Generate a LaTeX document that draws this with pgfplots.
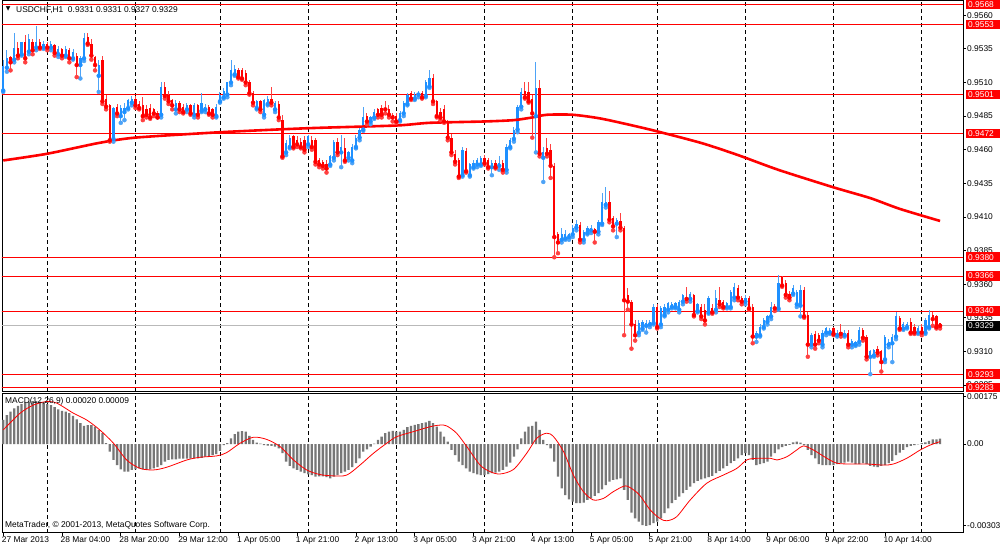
\documentclass[border=0pt]{standalone}
\usepackage{fontspec}
\setmainfont{Liberation Sans}
\newfontfamily\djv{DejaVu Sans}
\usepackage{pgfplots}
\usepackage{pgfplotstable}
\pgfplotsset{compat=1.18}
\definecolor{bull}{HTML}{1E90FF}
\definecolor{bear}{HTML}{FF0000}
\definecolor{bullwick}{HTML}{4DA3F7}
\definecolor{bearwick}{HTML}{FF4040}
\definecolor{histgray}{HTML}{777777}

\pgfplotstableread{
i o h l c
0 0.9504 0.9527 0.9503 0.9522
1 0.9521 0.9534 0.9518 0.9528
2 0.9529 0.9530 0.9519 0.9525
3 0.9527 0.9547 0.9525 0.9536
4 0.9536 0.9540 0.9528 0.9530
5 0.9531 0.9540 0.9530 0.9540
6 0.9540 0.9545 0.9525 0.9528
7 0.9533 0.9546 0.9531 0.9542
8 0.9540 0.9542 0.9531 0.9534
9 0.9536 0.9552 0.9534 0.9540
10 0.9540 0.9542 0.9535 0.9536
11 0.9536 0.9541 0.9535 0.9539
12 0.9539 0.9540 0.9534 0.9536
13 0.9536 0.9541 0.9534 0.9539
14 0.9538 0.9539 0.9530 0.9532
15 0.9531 0.9537 0.9529 0.9535
16 0.9535 0.9536 0.9528 0.9530
17 0.9530 0.9537 0.9529 0.9535
18 0.9534 0.9536 0.9525 0.9528
19 0.9528 0.9535 0.9527 0.9533
20 0.9530 0.9532 0.9514 0.9523
21 0.9523 0.9530 0.9513 0.9528
22 0.9528 0.9547 0.9526 0.9543
23 0.9544 0.9547 0.9538 0.9539
24 0.9539 0.9542 0.9527 0.9530
25 0.9529 0.9530 0.9519 0.9523
26 0.9515 0.9527 0.9503 0.9523
27 0.9527 0.9530 0.9494 0.9496
28 0.9498 0.9501 0.9490 0.9492
29 0.9493 0.9494 0.9466 0.9467
30 0.9468 0.9492 0.9466 0.9491
31 0.9492 0.9494 0.9485 0.9487
32 0.9485 0.9493 0.9480 0.9491
33 0.9488 0.9495 0.9482 0.9491
34 0.9491 0.9498 0.9490 0.9497
35 0.9495 0.9500 0.9493 0.9498
36 0.9498 0.9500 0.9491 0.9493
37 0.9494 0.9496 0.9490 0.9491
38 0.9493 0.9499 0.9482 0.9485
39 0.9490 0.9493 0.9484 0.9486
40 0.9491 0.9494 0.9483 0.9484
41 0.9490 0.9491 0.9485 0.9487
42 0.9487 0.9489 0.9484 0.9484
43 0.9486 0.9510 0.9484 0.9507
44 0.9507 0.9510 0.9498 0.9500
45 0.9501 0.9504 0.9494 0.9496
46 0.9497 0.9498 0.9490 0.9493
47 0.9490 0.9497 0.9487 0.9495
48 0.9495 0.9496 0.9488 0.9490
49 0.9492 0.9494 0.9487 0.9488
50 0.9490 0.9495 0.9488 0.9493
51 0.9493 0.9494 0.9486 0.9487
52 0.9486 0.9495 0.9484 0.9493
53 0.9493 0.9494 0.9484 0.9486
54 0.9489 0.9502 0.9488 0.9495
55 0.9490 0.9494 0.9488 0.9492
56 0.9492 0.9493 0.9486 0.9487
57 0.9490 0.9491 0.9484 0.9486
58 0.9485 0.9494 0.9484 0.9492
59 0.9496 0.9503 0.9495 0.9501
60 0.9499 0.9506 0.9498 0.9504
61 0.9501 0.9510 0.9499 0.9510
62 0.9510 0.9527 0.9508 0.9519
63 0.9516 0.9523 0.9515 0.9520
64 0.9519 0.9521 0.9513 0.9514
65 0.9519 0.9521 0.9512 0.9513
66 0.9517 0.9519 0.9508 0.9510
67 0.9510 0.9512 0.9501 0.9502
68 0.9502 0.9504 0.9493 0.9495
69 0.9491 0.9497 0.9490 0.9496
70 0.9496 0.9497 0.9488 0.9490
71 0.9486 0.9498 0.9484 0.9497
72 0.9494 0.9500 0.9493 0.9498
73 0.9498 0.9507 0.9493 0.9495
74 0.9490 0.9496 0.9488 0.9495
75 0.9494 0.9496 0.9482 0.9484
76 0.9482 0.9486 0.9454 0.9455
77 0.9458 0.9467 0.9456 0.9465
78 0.9462 0.9471 0.9461 0.9469
79 0.9470 0.9471 0.9461 0.9462
80 0.9467 0.9470 0.9462 0.9464
81 0.9466 0.9469 0.9461 0.9462
82 0.9467 0.9470 0.9458 0.9460
83 0.9464 0.9471 0.9462 0.9470
84 0.9467 0.9470 0.9460 0.9462
85 0.9467 0.9469 0.9449 0.9451
86 0.9452 0.9454 0.9447 0.9449
87 0.9451 0.9452 0.9446 0.9448
88 0.9449 0.9452 0.9443 0.9446
89 0.9449 0.9456 0.9448 0.9455
90 0.9454 0.9467 0.9452 0.9466
91 0.9466 0.9469 0.9456 0.9458
92 0.9458 0.9471 0.9447 0.9462
93 0.9461 0.9469 0.9451 0.9452
94 0.9454 0.9459 0.9452 0.9458
95 0.9452 0.9464 0.9450 0.9462
96 0.9462 0.9471 0.9461 0.9469
97 0.9469 0.9476 0.9467 0.9475
98 0.9475 0.9492 0.9474 0.9484
99 0.9485 0.9487 0.9479 0.9481
100 0.9481 0.9485 0.9479 0.9484
101 0.9484 0.9490 0.9483 0.9488
102 0.9490 0.9491 0.9484 0.9486
103 0.9491 0.9493 0.9484 0.9486
104 0.9491 0.9496 0.9487 0.9490
105 0.9490 0.9493 0.9484 0.9486
106 0.9486 0.9487 0.9481 0.9484
107 0.9485 0.9487 0.9480 0.9481
108 0.9482 0.9489 0.9481 0.9487
109 0.9487 0.9496 0.9485 0.9495
110 0.9494 0.9502 0.9493 0.9501
111 0.9502 0.9504 0.9497 0.9498
112 0.9498 0.9503 0.9497 0.9501
113 0.9501 0.9504 0.9499 0.9502
114 0.9502 0.9504 0.9498 0.9499
115 0.9500 0.9512 0.9499 0.9510
116 0.9507 0.9519 0.9506 0.9513
117 0.9513 0.9516 0.9494 0.9496
118 0.9496 0.9497 0.9484 0.9485
119 0.9488 0.9491 0.9482 0.9484
120 0.9490 0.9493 0.9480 0.9481
121 0.9481 0.9482 0.9467 0.9469
122 0.9469 0.9472 0.9456 0.9458
123 0.9457 0.9460 0.9449 0.9451
124 0.9452 0.9454 0.9439 0.9440
125 0.9441 0.9462 0.9440 0.9460
126 0.9459 0.9461 0.9443 0.9444
127 0.9441 0.9450 0.9440 0.9449
128 0.9447 0.9452 0.9446 0.9450
129 0.9449 0.9454 0.9447 0.9452
130 0.9449 0.9455 0.9448 0.9454
131 0.9454 0.9456 0.9449 0.9450
132 0.9452 0.9454 0.9446 0.9447
133 0.9447 0.9452 0.9441 0.9450
134 0.9450 0.9452 0.9446 0.9447
135 0.9448 0.9455 0.9445 0.9450
136 0.9450 0.9452 0.9443 0.9445
137 0.9445 0.9464 0.9443 0.9462
138 0.9462 0.9469 0.9461 0.9467
139 0.9468 0.9477 0.9466 0.9475
140 0.9475 0.9493 0.9473 0.9492
141 0.9492 0.9506 0.9490 0.9503
142 0.9504 0.9510 0.9498 0.9499
143 0.9503 0.9510 0.9495 0.9496
144 0.9498 0.9501 0.9469 0.9487
145 0.9485 0.9525 0.9458 0.9506
146 0.9506 0.9512 0.9455 0.9457
147 0.9454 0.9462 0.9436 0.9458
148 0.9461 0.9469 0.9455 0.9457
149 0.9460 0.9464 0.9439 0.9448
150 0.9448 0.9450 0.9380 0.9395
151 0.9397 0.9399 0.9383 0.9391
152 0.9393 0.9402 0.9391 0.9397
153 0.9394 0.9400 0.9393 0.9397
154 0.9395 0.9398 0.9393 0.9397
155 0.9397 0.9404 0.9395 0.9402
156 0.9402 0.9408 0.9400 0.9405
157 0.9404 0.9406 0.9391 0.9393
158 0.9393 0.9400 0.9391 0.9399
159 0.9398 0.9403 0.9397 0.9402
160 0.9400 0.9404 0.9398 0.9402
161 0.9401 0.9402 0.9391 0.9399
162 0.9399 0.9408 0.9397 0.9406
163 0.9405 0.9428 0.9404 0.9421
164 0.9419 0.9432 0.9417 0.9421
165 0.9421 0.9429 0.9406 0.9408
166 0.9409 0.9411 0.9400 0.9403
167 0.9405 0.9409 0.9395 0.9408
168 0.9407 0.9413 0.9400 0.9402
169 0.9402 0.9403 0.9322 0.9348
170 0.9352 0.9357 0.9341 0.9347
171 0.9347 0.9348 0.9312 0.9330
172 0.9330 0.9333 0.9318 0.9322
173 0.9324 0.9333 0.9322 0.9331
174 0.9327 0.9333 0.9326 0.9332
175 0.9329 0.9333 0.9324 0.9331
176 0.9330 0.9333 0.9328 0.9332
177 0.9331 0.9345 0.9330 0.9343
178 0.9343 0.9345 0.9327 0.9328
179 0.9330 0.9344 0.9328 0.9342
180 0.9337 0.9345 0.9336 0.9343
181 0.9341 0.9347 0.9339 0.9346
182 0.9343 0.9347 0.9342 0.9345
183 0.9343 0.9347 0.9342 0.9346
184 0.9341 0.9348 0.9339 0.9347
185 0.9347 0.9353 0.9345 0.9352
186 0.9350 0.9358 0.9347 0.9349
187 0.9349 0.9354 0.9347 0.9353
188 0.9352 0.9353 0.9336 0.9337
189 0.9340 0.9346 0.9339 0.9345
190 0.9343 0.9345 0.9334 0.9336
191 0.9341 0.9345 0.9330 0.9333
192 0.9339 0.9351 0.9338 0.9350
193 0.9342 0.9345 0.9338 0.9339
194 0.9341 0.9356 0.9339 0.9350
195 0.9348 0.9358 0.9343 0.9345
196 0.9347 0.9348 0.9342 0.9343
197 0.9343 0.9347 0.9342 0.9346
198 0.9343 0.9356 0.9342 0.9354
199 0.9350 0.9361 0.9348 0.9358
200 0.9357 0.9359 0.9348 0.9350
201 0.9350 0.9351 0.9345 0.9347
202 0.9347 0.9352 0.9345 0.9350
203 0.9350 0.9351 0.9341 0.9342
204 0.9343 0.9345 0.9316 0.9321
205 0.9321 0.9325 0.9317 0.9324
206 0.9322 0.9330 0.9321 0.9328
207 0.9328 0.9335 0.9327 0.9333
208 0.9332 0.9337 0.9330 0.9336
209 0.9336 0.9347 0.9334 0.9343
210 0.9343 0.9345 0.9340 0.9342
211 0.9342 0.9367 0.9341 0.9361
212 0.9365 0.9366 0.9358 0.9359
213 0.9361 0.9363 0.9350 0.9352
214 0.9353 0.9355 0.9348 0.9350
215 0.9353 0.9359 0.9352 0.9357
216 0.9345 0.9356 0.9343 0.9354
217 0.9344 0.9359 0.9336 0.9356
218 0.9356 0.9358 0.9335 0.9336
219 0.9337 0.9339 0.9306 0.9315
220 0.9315 0.9324 0.9313 0.9322
221 0.9323 0.9325 0.9312 0.9315
222 0.9322 0.9324 0.9316 0.9318
223 0.9315 0.9326 0.9313 0.9324
224 0.9324 0.9328 0.9322 0.9327
225 0.9324 0.9327 0.9323 0.9326
226 0.9327 0.9328 0.9322 0.9323
227 0.9322 0.9326 0.9321 0.9324
228 0.9324 0.9330 0.9321 0.9323
229 0.9322 0.9326 0.9321 0.9324
230 0.9324 0.9326 0.9313 0.9315
231 0.9315 0.9319 0.9313 0.9318
232 0.9315 0.9318 0.9314 0.9317
233 0.9317 0.9328 0.9315 0.9326
234 0.9326 0.9327 0.9318 0.9320
235 0.9321 0.9322 0.9304 0.9306
236 0.9306 0.9311 0.9293 0.9310
237 0.9307 0.9312 0.9306 0.9311
238 0.9312 0.9314 0.9307 0.9309
239 0.9310 0.9311 0.9295 0.9302
240 0.9304 0.9322 0.9302 0.9321
241 0.9315 0.9319 0.9313 0.9317
242 0.9316 0.9323 0.9302 0.9321
243 0.9321 0.9339 0.9319 0.9336
244 0.9335 0.9336 0.9326 0.9327
245 0.9327 0.9332 0.9326 0.9330
246 0.9328 0.9332 0.9327 0.9330
247 0.9332 0.9335 0.9323 0.9324
248 0.9328 0.9330 0.9323 0.9324
249 0.9324 0.9329 0.9323 0.9327
250 0.9328 0.9330 0.9322 0.9324
251 0.9324 0.9335 0.9323 0.9333
252 0.9328 0.9341 0.9327 0.9337
253 0.9337 0.9339 0.9329 0.9334
254 0.9336 0.9337 0.9327 0.9328
255 0.9331 0.9331 0.9327 0.9329
}\candles

\pgfplotstableread{
i m
0 0.00089
1 0.00107
2 0.00120
3 0.00132
4 0.00141
5 0.00148
6 0.00153
7 0.00157
8 0.00159
9 0.00159
10 0.00157
11 0.00153
12 0.00148
13 0.00144
14 0.00136
15 0.00128
16 0.00123
17 0.00120
18 0.00114
19 0.00104
20 0.00091
21 0.00077
22 0.00067
23 0.00070
24 0.00070
25 0.00064
26 0.00052
27 0.00040
28 0.00003
29 -0.00028
30 -0.00059
31 -0.00078
32 -0.00094
33 -0.00102
34 -0.00102
35 -0.00096
36 -0.00094
37 -0.00090
38 -0.00094
39 -0.00096
40 -0.00094
41 -0.00090
42 -0.00086
43 -0.00078
44 -0.00065
45 -0.00059
46 -0.00057
47 -0.00057
48 -0.00054
49 -0.00054
50 -0.00054
51 -0.00054
52 -0.00053
53 -0.00053
54 -0.00051
55 -0.00047
56 -0.00044
57 -0.00041
58 -0.00037
59 -0.00025
60 -0.00004
61 0.00003
62 0.00021
63 0.00037
64 0.00046
65 0.00048
66 0.00046
67 0.00030
68 0.00015
69 0.00005
70 0.00001
71 -0.00004
72 -0.00006
73 -0.00007
74 -0.00010
75 -0.00016
76 -0.00034
77 -0.00065
78 -0.00081
79 -0.00090
80 -0.00096
81 -0.00102
82 -0.00108
83 -0.00112
84 -0.00115
85 -0.00121
86 -0.00120
87 -0.00120
88 -0.00123
89 -0.00127
90 -0.00121
91 -0.00115
92 -0.00108
93 -0.00102
94 -0.00096
95 -0.00086
96 -0.00071
97 -0.00053
98 -0.00028
99 -0.00020
100 -0.00010
101 0.00001
102 0.00015
103 0.00027
104 0.00040
105 0.00046
106 0.00049
107 0.00046
108 0.00046
109 0.00052
110 0.00062
111 0.00067
112 0.00071
113 0.00074
114 0.00077
115 0.00080
116 0.00086
117 0.00077
118 0.00064
119 0.00046
120 0.00027
121 0.00009
122 -0.00022
123 -0.00041
124 -0.00065
125 -0.00078
126 -0.00090
127 -0.00102
128 -0.00108
129 -0.00112
130 -0.00115
131 -0.00115
132 -0.00111
133 -0.00108
134 -0.00106
135 -0.00102
136 -0.00096
137 -0.00084
138 -0.00069
139 -0.00047
140 -0.00020
141 0.00021
142 0.00046
143 0.00064
144 0.00067
145 0.00083
146 0.00052
147 0.00015
148 -0.00004
149 -0.00016
150 -0.00065
151 -0.00121
152 -0.00164
153 -0.00189
154 -0.00205
155 -0.00213
156 -0.00219
157 -0.00219
158 -0.00217
159 -0.00207
160 -0.00201
161 -0.00192
162 -0.00182
163 -0.00168
164 -0.00152
165 -0.00139
166 -0.00133
167 -0.00131
168 -0.00127
169 -0.00170
170 -0.00207
171 -0.00254
172 -0.00275
173 -0.00287
174 -0.00300
175 -0.00303
176 -0.00300
177 -0.00293
178 -0.00287
179 -0.00275
180 -0.00256
181 -0.00238
182 -0.00219
183 -0.00207
184 -0.00195
185 -0.00182
186 -0.00170
187 -0.00158
188 -0.00145
189 -0.00136
190 -0.00131
191 -0.00127
192 -0.00123
193 -0.00118
194 -0.00108
195 -0.00099
196 -0.00090
197 -0.00081
198 -0.00071
199 -0.00062
200 -0.00053
201 -0.00041
202 -0.00034
203 -0.00041
204 -0.00059
205 -0.00078
206 -0.00074
207 -0.00071
208 -0.00065
209 -0.00047
210 -0.00034
211 -0.00020
212 -0.00012
213 -0.00007
214 -0.00003
215 0.00006
216 0.00009
217 0.00005
218 -0.00004
219 -0.00022
220 -0.00041
221 -0.00053
222 -0.00074
223 -0.00078
224 -0.00078
225 -0.00078
226 -0.00078
227 -0.00074
228 -0.00071
229 -0.00069
230 -0.00065
231 -0.00069
232 -0.00074
233 -0.00074
234 -0.00071
235 -0.00074
236 -0.00081
237 -0.00084
238 -0.00086
239 -0.00081
240 -0.00078
241 -0.00071
242 -0.00062
243 -0.00041
244 -0.00032
245 -0.00022
246 -0.00012
247 -0.00007
248 -0.00004
249 -0.00001
250 0.00003
251 0.00006
252 0.00012
253 0.00017
254 0.00017
255 0.00020
}\macd

\tikzset{sep/.style={black, line width=0.8pt, dash pattern=on 4pt off 3pt},
  lbl/.style={anchor=west, inner xsep=2pt, inner ysep=0pt, minimum height=9.6pt, text width=30pt, align=left, text=white, font=\fontsize{8.4}{9}\selectfont}}

\begin{document}
\begin{tikzpicture}[x=1pt,y=1pt]
\fill[white] (0,0) rectangle (1000,549);

\begin{axis}[name=main, at={(2pt,158pt)}, anchor=south west, scale only axis,
  width=961pt, height=390.5pt,
  xmin=-0.33, xmax=261.24, ymin=0.92805, ymax=0.95710,
  axis line style={black, line width=0.9pt},
  xtick=\empty,
  ytick={0.9285,0.9310,0.9335,0.9360,0.9385,0.9410,0.9435,0.9460,0.9485,0.9510,0.9535,0.9560},
  scaled y ticks=false,
  ytick pos=right, yticklabel pos=right,
  tick align=outside, major tick length=3pt,
  tick style={black, line width=0.8pt},
  yticklabel style={font=\fontsize{8.4}{10}\selectfont, anchor=west, inner sep=0pt, xshift=1pt,
    /pgf/number format/fixed, /pgf/number format/fixed zerofill,
    /pgf/number format/precision=4, /pgf/number format/assume math mode=true},
  clip=true]
\pgfplotsinvokeforeach{12,36,59,83,107,131,155,178,202,226,250}{
  \draw[sep] (axis cs:#1,0.92805) -- (axis cs:#1,0.95710);
}
\addplot[red, line width=0.9pt, forget plot] coordinates {(-1,0.9568) (262,0.9568)};
\addplot[red, line width=0.9pt, forget plot] coordinates {(-1,0.9553) (262,0.9553)};
\addplot[red, line width=0.9pt, forget plot] coordinates {(-1,0.9501) (262,0.9501)};
\addplot[red, line width=0.9pt, forget plot] coordinates {(-1,0.9472) (262,0.9472)};
\addplot[red, line width=0.9pt, forget plot] coordinates {(-1,0.9380) (262,0.9380)};
\addplot[red, line width=0.9pt, forget plot] coordinates {(-1,0.9366) (262,0.9366)};
\addplot[red, line width=0.9pt, forget plot] coordinates {(-1,0.9340) (262,0.9340)};
\addplot[red, line width=0.9pt, forget plot] coordinates {(-1,0.9293) (262,0.9293)};
\addplot[red, line width=0.9pt, forget plot] coordinates {(-1,0.9283) (262,0.9283)};
\addplot[gray!55, line width=0.9pt, forget plot] coordinates {(-1,0.9329) (262,0.9329)};
% wicks
\addplot[bullwick, only marks, mark=none,
  restrict expr to domain={(\thisrow{c}-\thisrow{o})*10000}{0:1000},
  error bars/.cd, y dir=plus, y explicit, error mark=none,
  error bar style={draw=bullwick, line width=1pt}]
  table[x=i, y=l, y error expr=\thisrow{h}-\thisrow{l}] {\candles};
\addplot[bearwick, only marks, mark=none,
  restrict expr to domain={(\thisrow{c}-\thisrow{o})*10000}{-1000:-0.5},
  error bars/.cd, y dir=plus, y explicit, error mark=none,
  error bar style={draw=bearwick, line width=1pt}]
  table[x=i, y=l, y error expr=\thisrow{h}-\thisrow{l}] {\candles};
% bodies
\addplot[bull, only marks, mark=none,
  restrict expr to domain={(\thisrow{c}-\thisrow{o})*10000}{0:1000},
  error bars/.cd, y dir=plus, y explicit, error mark=none,
  error bar style={draw=bull, line width=2.3pt}]
  table[x=i, y=o, y error expr={max(\thisrow{c}-\thisrow{o},0.00008)}] {\candles};
\addplot[bear, only marks, mark=none,
  restrict expr to domain={(\thisrow{c}-\thisrow{o})*10000}{-1000:-0.5},
  error bars/.cd, y dir=plus, y explicit, error mark=none,
  error bar style={draw=bear, line width=2.3pt}]
  table[x=i, y=c, y error expr={max(\thisrow{o}-\thisrow{c},0.00008)}] {\candles};
% moving average
\addplot[red, line width=2.6pt, smooth, tension=0.4] coordinates {
(0,0.9452) (12,0.9457) (26,0.9465) (36,0.9469) (59,0.9473) (83,0.9476)
(107,0.9478) (116,0.9480) (131,0.9481) (139,0.9482) (144,0.9484) (148,0.9486)
(155,0.9486) (163,0.9483) (176,0.9475) (190,0.9465) (200,0.9456) (211,0.9445)
(226,0.9432) (236,0.9424) (244,0.9416) (255,0.9407)};
\coordinate (b1) at (axis cs:261.24,0.9568);
\coordinate (b2) at (axis cs:261.24,0.9553);
\coordinate (b3) at (axis cs:261.24,0.9501);
\coordinate (b4) at (axis cs:261.24,0.9472);
\coordinate (b5) at (axis cs:261.24,0.9380);
\coordinate (b6) at (axis cs:261.24,0.9366);
\coordinate (b7) at (axis cs:261.24,0.9340);
\coordinate (b8) at (axis cs:261.24,0.9293);
\coordinate (b9) at (axis cs:261.24,0.9283);
\coordinate (bk) at (axis cs:261.24,0.9329);
\end{axis}

\foreach \b/\t in {b1/0.9568,b2/0.9553,b3/0.9501,b4/0.9472,b5/0.9380,b6/0.9366,b7/0.9340,b8/0.9293,b9/0.9283}{
  \node[lbl, fill=red] at ([xshift=3pt]\b) {\t};
}
\node[lbl, fill=black] at ([xshift=3pt]bk) {0.9329};

\node[anchor=west, inner sep=0pt, font=\fontsize{8.4}{10}\selectfont] at (16,539.3) {USDCHF,H1\ \ 0.9331 0.9331 0.9327 0.9329};
\node[inner sep=0pt, font=\djv\fontsize{6}{6}\selectfont] at (8.3,539.6) {▼};

\begin{axis}[name=macdax, at={(2pt,16.3pt)}, anchor=south west, scale only axis,
  width=961pt, height=139.4pt,
  xmin=-0.33, xmax=261.24, ymin=-0.003282, ymax=0.001876,
  axis line style={black, line width=0.9pt},
  scaled y ticks=false, scaled x ticks=false,
  ytick={-0.00303,0,0.00175}, yticklabels={-0.00303,0.00,0.00175},
  ytick pos=right, yticklabel pos=right,
  xtick={0,16,...,240},
  xticklabels={27 Mar 2013,28 Mar 04:00,28 Mar 20:00,29 Mar 12:00,1 Apr 05:00,1 Apr 21:00,2 Apr 13:00,3 Apr 05:00,3 Apr 21:00,4 Apr 13:00,5 Apr 05:00,5 Apr 21:00,8 Apr 14:00,9 Apr 06:00,9 Apr 22:00,10 Apr 14:00},
  xtick pos=bottom,
  tick align=outside, major tick length=3pt,
  tick style={black, line width=0.8pt},
  yticklabel style={font=\fontsize{8.4}{10}\selectfont, anchor=west, inner sep=0pt, xshift=1pt},
  xticklabel style={font=\fontsize{8.4}{10}\selectfont, anchor=north west, inner sep=0pt, xshift=-1.5pt, yshift=-1pt},
  clip=true]
\pgfplotsinvokeforeach{12,36,59,83,107,131,155,178,202,226,250}{
  \draw[sep] (axis cs:#1,-0.003282) -- (axis cs:#1,0.001876);
}
\addplot[ybar, bar width=2.3pt, fill=histgray, draw=none] table[x=i, y=m] {\macd};
\addplot[red, line width=0.8pt, smooth, tension=0.5] coordinates {
(0,0.00052) (4.6,0.00114) (8.2,0.00144) (11.8,0.00157) (14.6,0.00151) (19.1,0.00114)
(22.7,0.00089) (26.3,0.00052) (30,0.00003) (33.6,-0.00059) (37.2,-0.00090) (40.9,-0.00096)
(44.5,-0.00086) (50,-0.00059) (53.6,-0.00049) (58.1,-0.00044) (60.8,-0.00032) (64.5,0.00003)
(68.1,0.00025) (71.7,0.00017) (75.4,-0.00010) (79,-0.00059) (82.6,-0.00096) (86.2,-0.00113)
(89.9,-0.00118) (93.5,-0.00115) (97.1,-0.00078) (100.8,-0.00034) (104.4,0.00003) (107.1,0.00027)
(111.7,0.00046) (116.2,0.00064) (118.9,0.00070) (120.7,0.00067) (123.4,0.00040) (126.2,-0.00010)
(129.8,-0.00078) (132.5,-0.00102) (135.2,-0.00111) (138.9,-0.00094) (142.5,-0.00034) (145.2,0.00021)
(147.9,0.00040) (149.8,0.00027) (152.5,-0.00028) (155.2,-0.00115) (157.9,-0.00176) (160.6,-0.00207)
(163.4,-0.00201) (166.1,-0.00176) (169.3,-0.00155) (171.6,-0.00170) (173.4,-0.00192) (176.1,-0.00244)
(178.8,-0.00276) (180.6,-0.00284) (183.3,-0.00269) (187,-0.00207) (191.5,-0.00145) (196,-0.00115)
(199.7,-0.00090) (202.4,-0.00059) (205.1,-0.00053) (208.9,-0.00053) (210.6,-0.00059) (213.3,-0.00047)
(216,-0.00022) (217.8,-0.00007) (220.5,-0.00022) (224.2,-0.00053) (226.9,-0.00071) (230.5,-0.00074)
(235,-0.00074) (239.6,-0.00078) (242.3,-0.00074) (245.9,-0.00053) (249.6,-0.00022) (252.3,-0.00004)
(255,0.00009)};
\end{axis}

\node[anchor=west, inner sep=0pt, font=\fontsize{8.4}{10}\selectfont] at (5,148) {MACD(12,26,9) 0.00020 0.00009};
\node[anchor=west, inner sep=0pt, font=\fontsize{8.4}{10}\selectfont] at (5,23.3) {MetaTrader, © 2001-2013, MetaQuotes Software Corp.};
\pgfresetboundingbox
\path[use as bounding box] (0,0) rectangle (1000,549);
\end{tikzpicture}
\end{document}
